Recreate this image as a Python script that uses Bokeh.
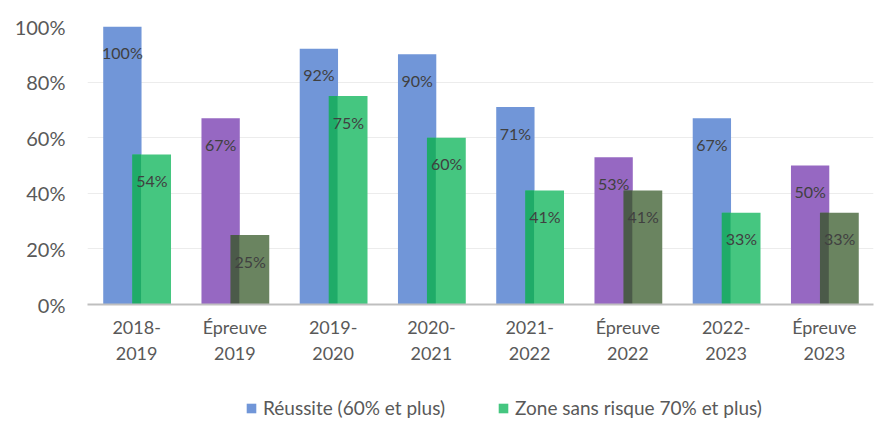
from bokeh.plotting import figure
from bokeh.layouts import column
from bokeh.models import ColumnDataSource, Legend, LegendItem, NumeralTickFormatter, FixedTicker, LabelSet
from bokeh.transform import dodge
from bokeh.core.properties import value
from bokeh.embed import file_html
from bokeh.resources import INLINE

categories = ["2018-\n2019", "Épreuve\n2019", "2019-\n2020", "2020-\n2021", "2021-\n2022", "Épreuve\n2022", "2022-\n2023", "Épreuve\n2023"]
reussite = [1.00, 0.67, 0.92, 0.90, 0.71, 0.53, 0.67, 0.50]
zone = [0.54, 0.25, 0.75, 0.60, 0.41, 0.41, 0.33, 0.33]
is_epreuve = [False, True, False, False, False, True, False, True]
y_ticks = [0, 0.2, 0.4, 0.6, 0.8, 1.0]
series_names = ["Réussite (60% et plus)", "Zone sans risque 70% et plus)"]

c1 = ["#9668c2" if e else "#7196d8" for e in is_epreuve]
c2 = ["#6a8460" if e else "#45c680" for e in is_epreuve]
c3 = ["#4b5a49" if e else "#1fab68" for e in is_epreuve]

src = ColumnDataSource(dict(
    cat=categories, r=reussite, z=zone, ov=[min(a, b) for a, b in zip(reussite, zone)],
    c1=c1, c2=c2, c3=c3,
    rl=[f"{round(v*100)}%" for v in reussite],
    zl=[f"{round(v*100)}%" for v in zone],
))

p = figure(x_range=categories, y_range=(0, 1.0), frame_width=786, frame_height=278,
           output_backend="svg", toolbar_location=None,
           min_border_left=87, min_border_right=8, min_border_top=26, min_border_bottom=90)
p.outline_line_color = None
p.background_fill_color = "white"

w = 0.39
r1 = p.vbar(x=dodge("cat", -0.145, range=p.x_range), top="r", width=w, source=src,
            fill_color="c1", line_color=None)
r2 = p.vbar(x=dodge("cat", 0.155, range=p.x_range), top="z", width=w, source=src,
            fill_color="c2", line_color=None)
# overlap (darker region where the second bar covers the first)
p.vbar(x=dodge("cat", 0.0, range=p.x_range), top="ov", width=0.09, source=src,
       fill_color="c3", line_color=None)

lab_style = dict(text_font=value("Lato"), text_font_size=value("16px"), text_color="#404040",
                 text_align="center", text_baseline="middle")
p.add_layout(LabelSet(x=dodge("cat", -0.145, range=p.x_range), y="r", text="rl", y_offset=-26,
                      source=src, **lab_style))
p.add_layout(LabelSet(x=dodge("cat", 0.155, range=p.x_range), y="z", text="zl", y_offset=-26,
                      source=src, **lab_style))

p.yaxis.ticker = FixedTicker(ticks=y_ticks)
p.yaxis.formatter = NumeralTickFormatter(format="0%")
p.yaxis.axis_line_color = None
p.yaxis.major_tick_line_color = None
p.yaxis.minor_tick_line_color = None
p.yaxis.major_label_text_font = "Lato"
p.yaxis.major_label_text_font_size = "20px"
p.yaxis.major_label_text_color = "#595959"
p.yaxis.major_label_standoff = 16

p.xaxis.axis_line_color = "#bfbfbf"
p.xaxis.axis_line_width = 2
p.xaxis.major_tick_line_color = None
p.xaxis.minor_tick_line_color = None
p.xaxis.major_label_text_font = "Lato"
p.xaxis.major_label_text_font_size = "18px"
p.xaxis.major_label_text_color = "#595959"
p.xaxis.major_label_standoff = 5

p.xgrid.grid_line_color = None
p.ygrid.grid_line_color = "#ececec"
p.ygrid.grid_line_width = 1

# legend strip below the chart: the same series, drawn in a range where the bars are out of view
pl = figure(x_range=categories, y_range=(2, 3), width=881, height=30,
            output_backend="svg", toolbar_location=None,
            x_axis_type=None, y_axis_type=None,
            min_border_left=0, min_border_right=0, min_border_top=0, min_border_bottom=0)
pl.outline_line_color = None
pl.xgrid.grid_line_color = None
pl.ygrid.grid_line_color = None
l1 = pl.vbar(x=dodge("cat", -0.145, range=pl.x_range), top="r", width=w, source=src,
             fill_color="c1", line_color=None)
l2 = pl.vbar(x=dodge("cat", 0.155, range=pl.x_range), top="z", width=w, source=src,
             fill_color="c2", line_color=None)

legend = Legend(items=[LegendItem(label=series_names[0], renderers=[l1], index=0),
                       LegendItem(label=series_names[1], renderers=[l2], index=0)],
                orientation="horizontal", location=(158, 5),
                label_text_font="Lato", label_text_font_size="19px", label_text_color="#595959",
                glyph_width=12, glyph_height=12, spacing=52, label_standoff=6,
                border_line_color=None, background_fill_alpha=0, margin=0, padding=0)
pl.add_layout(legend, "center")

layout = column(p, pl, spacing=0)
open("out.html", "w").write(file_html(layout, INLINE))
